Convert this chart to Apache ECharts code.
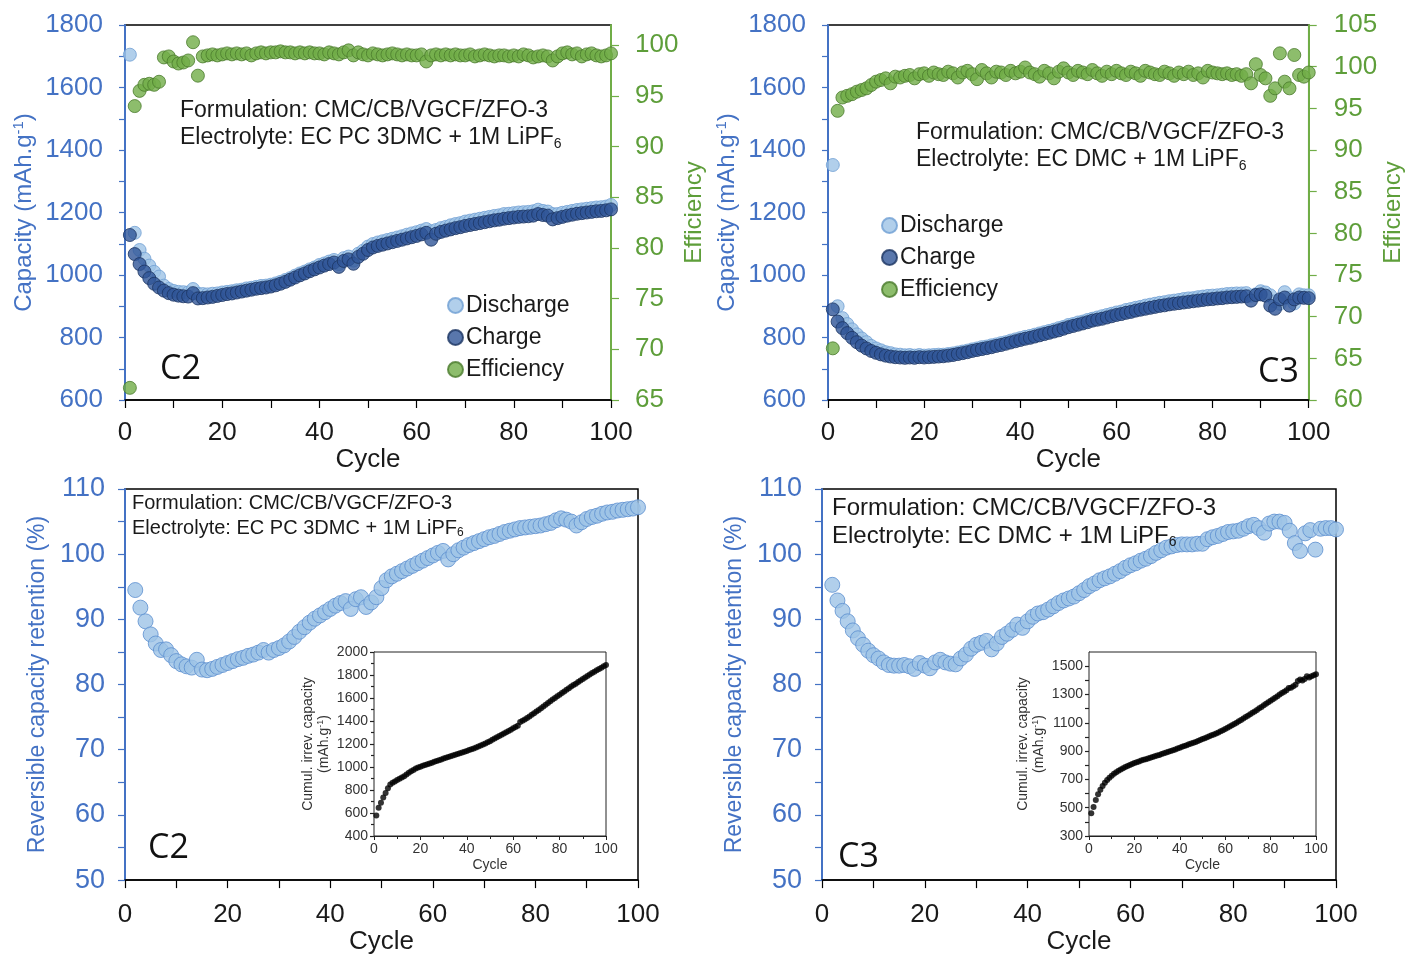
<!DOCTYPE html>
<html><head><meta charset="utf-8">
<script src="https://cdn.jsdelivr.net/npm/echarts@6/dist/echarts.min.js"></script>
<style>html,body{margin:0;padding:0;background:#fff}#c{width:1406px;height:956px}</style>
</head><body><div id="c"></div>
<script>
// ---------------- DATA ----------------
const c2Charge = [1128,1067,1035,1011,990,972,960,950,942,937,
 934,932,931,942,925,926,928,930,933,936,
 939,941,944,947,950,953,956,958,960,963,
 967,972,978,985,992,999,1005,1012,1018,1024,
 1030,1035,1040,1026,1045,1050,1036,1058,1068,1080,
 1088,1093,1097,1101,1105,1109,1113,1117,1121,1125,
 1130,1135,1113,1132,1138,1142,1146,1150,1153,1157,
 1160,1163,1166,1169,1172,1175,1177,1180,1182,1184,
 1186,1187,1188,1190,1195,1192,1190,1178,1182,1186,
 1190,1193,1196,1198,1200,1202,1204,1205,1207,1210];
const c2Discharge = [1705,1135,1080,1052,1030,1010,995,966,955,949,
 946,945,944,955,940,939,938,940,941,944,
 946,948,951,953,957,959,962,965,966,969,
 973,978,984,990,998,1005,1011,1018,1024,1032,
 1037,1043,1048,1035,1054,1059,1046,1068,1078,1091,
 1099,1104,1108,1112,1116,1120,1124,1129,1133,1137,
 1142,1147,1140,1144,1150,1154,1159,1163,1166,1171,
 1174,1177,1180,1183,1186,1189,1191,1195,1196,1198,
 1200,1201,1202,1204,1209,1205,1203,1195,1195,1199,
 1202,1205,1208,1210,1212,1214,1216,1217,1219,1224];
const c2Efficiency = [66.2,94.0,95.5,96.1,96.2,96.1,96.4,98.8,98.9,98.4,
 98.2,98.3,98.5,100.3,97.0,98.9,99.0,99.1,99.0,99.1,
 99.2,99.1,99.2,99.1,99.2,99.0,99.2,99.3,99.2,99.3,
 99.3,99.4,99.3,99.3,99.2,99.3,99.2,99.3,99.2,99.2,
 99.1,99.3,99.2,99.1,99.3,99.5,99.0,99.3,99.1,99.0,
 99.2,99.1,99.0,99.1,99.2,99.1,99.0,99.1,99.0,99.0,
 99.1,98.4,99.0,99.1,99.0,99.1,99.0,99.1,99.0,99.0,
 99.1,98.9,99.0,99.1,99.0,98.9,99.0,99.0,98.9,99.0,
 98.9,99.1,99.0,98.8,98.9,99.0,98.9,98.5,98.9,99.2,
 99.3,99.1,99.2,98.9,99.1,99.2,99.0,98.9,99.0,99.2];

const c3Charge = [890,851,830,814,799,785,774,765,757,751,
 746,742,739,737,736,735,736,735,737,736,
 737,738,739,740,742,744,747,750,753,757,
 760,763,766,769,773,776,780,784,788,792,
 796,799,803,807,811,815,819,823,828,833,
 837,841,845,849,854,857,860,864,868,872,
 875,879,882,886,889,892,895,898,901,903,
 906,908,910,912,914,916,918,920,922,923,
 925,926,928,929,930,931,932,918,936,938,
 934,902,892,922,928,902,922,928,927,926];
const c3Discharge = [1352,900,862,843,826,810,797,785,773,765,
 759,753,750,746,745,743,744,742,744,742,
 743,744,745,745,747,749,752,755,758,762,
 765,769,771,775,778,782,785,790,794,798,
 802,805,809,813,817,821,825,830,834,840,
 843,848,851,856,860,864,868,872,876,880,
 883,888,891,895,898,902,905,908,911,913,
 916,918,920,923,925,926,929,931,933,934,
 935,937,939,940,941,941,942,934,938,948,
 944,935,916,908,945,926,909,938,935,935];
const c3Efficiency = [66.2,94.7,96.3,96.5,96.7,97.0,97.2,97.4,97.8,98.2,
 98.4,98.6,98.0,98.8,98.7,98.9,99.0,98.6,99.1,99.2,
 98.9,99.3,99.1,99.0,99.4,99.2,98.7,99.3,99.5,99.1,
 98.5,99.6,99.2,98.7,99.4,99.3,99.0,99.5,99.2,99.4,
 99.9,99.3,99.1,98.8,99.5,99.2,98.6,99.4,99.8,99.3,
 99.0,99.5,99.3,99.1,99.6,99.2,98.9,99.4,99.1,99.5,
 99.2,99.0,99.4,99.2,98.9,99.5,99.3,99.1,99.0,99.4,
 99.2,98.9,99.3,99.1,99.4,99.0,99.2,98.7,99.5,99.3,
 99.2,99.1,99.2,99.0,99.1,98.9,99.1,98.0,100.3,99.0,
 98.6,96.5,97.4,101.6,98.2,97.4,101.4,99.0,98.8,99.3];

// retention: cycles 2..100
const c2Retention = [94.5,91.8,89.7,87.7,86.3,85.3,85.4,84.5,83.6,
 83.1,82.8,82.6,83.8,82.3,82.2,82.4,82.7,83.0,83.3,
 83.6,83.9,84.1,84.4,84.6,84.9,85.3,84.9,85.3,85.6,
 86.0,86.6,87.3,88.1,88.8,89.5,90.1,90.6,91.1,91.6,
 92.1,92.5,92.8,91.6,93.1,93.4,91.9,92.6,93.4,94.8,
 96.0,96.6,97.0,97.4,97.8,98.2,98.6,99.0,99.4,99.8,
 100.2,100.5,99.2,100.0,100.6,101.0,101.4,101.7,102.0,102.3,
 102.6,102.8,103.1,103.4,103.6,103.8,104.0,104.1,104.2,104.3,
 104.4,104.6,104.8,105.2,105.5,105.3,105.0,104.4,104.9,105.4,
 105.7,105.9,106.2,106.4,106.5,106.7,106.8,106.9,107.0,107.2];
const c3Retention = [95.3,92.9,91.3,89.7,88.3,87.1,86.1,85.2,84.5,
 84.0,83.4,83.0,82.9,82.9,83.0,82.8,82.4,83.3,82.9,
 82.5,83.4,83.8,83.4,83.2,83.1,84.0,84.6,85.5,86.1,
 86.4,86.7,85.4,86.3,87.3,87.8,88.4,89.2,88.7,89.7,
 90.4,90.9,91.1,91.5,92.0,92.5,92.9,93.2,93.5,94.0,
 94.5,95.1,95.5,96.0,96.3,96.6,97.0,97.4,97.9,98.3,
 98.6,99.0,99.3,99.7,100.2,100.6,101.0,101.2,101.4,101.5,
 101.5,101.5,101.6,101.6,102.3,102.6,102.8,103.1,103.4,103.5,
 103.6,103.9,104.3,104.5,104.0,103.3,104.7,105.0,105.0,104.8,
 103.6,101.7,100.5,103.2,103.7,100.7,103.9,104.0,104.0,103.8];

// cumulative irreversible capacity: cycles 1..100
const c2Cumul = [578,645,690,735,775,815,848,862,875,887,
 898,909,920,935,950,963,975,986,995,1003,
 1010,1017,1024,1031,1038,1045,1052,1059,1066,1073,
 1080,1087,1094,1100,1107,1113,1120,1126,1133,1140,
 1147,1154,1161,1170,1178,1186,1196,1205,1215,1225,
 1236,1247,1258,1269,1280,1291,1302,1313,1324,1336,
 1347,1358,1392,1402,1414,1427,1440,1454,1468,1482,
 1496,1511,1526,1541,1556,1571,1586,1600,1615,1629,
 1643,1657,1671,1685,1699,1712,1725,1740,1753,1766,
 1779,1792,1805,1817,1829,1841,1853,1864,1876,1888];
const c3Cumul = [460,505,555,595,627,654,677,696,712,726,
 739,750,761,770,779,787,795,802,809,815,
 821,827,833,838,843,848,853,858,863,868,
 873,879,884,890,895,901,906,912,918,924,
 930,936,942,948,953,959,965,972,978,985,
 991,998,1004,1011,1017,1024,1032,1040,1048,1056,
 1064,1073,1082,1091,1100,1110,1120,1130,1140,1150,
 1160,1170,1180,1191,1202,1212,1223,1234,1245,1256,
 1266,1277,1288,1299,1310,1320,1330,1346,1348,1358,
 1368,1395,1405,1398,1410,1428,1420,1428,1435,1442];

const formulationText = 'Formulation: CMC/CB/VGCF/ZFO-3';
const electrolyteC2 = 'Electrolyte: EC PC 3DMC + 1M LiPF';
const electrolyteC3 = 'Electrolyte: EC DMC + 1M LiPF';

// ---------------- STYLE ----------------
const FONT = 'Arial, "Liberation Sans", sans-serif';
const BLUE = '#4472C4';
const GREEN = '#70AD47';
const GREEN_TXT = '#5E9E3A';
const INK = '#1a1a1a';
const plain = v => String(v);

const pts = (arr, start) => arr.map((v, i) => [i + start, v]);

function xAx(gi, fs, margin, nameGap, opts) {
  return Object.assign({
    gridIndex: gi, type: 'value', min: 0, max: 100, interval: 20,
    name: 'Cycle', nameLocation: 'middle', nameGap: nameGap,
    nameTextStyle: { fontSize: fs, color: INK, fontFamily: FONT },
    axisLine: { onZero: false, lineStyle: { color: '#000', width: 1.5 } },
    axisTick: { show: true, length: 8, lineStyle: { color: '#000', width: 1.2 } },
    minorTick: { show: true, splitNumber: 2, length: 8, lineStyle: { color: '#000', width: 1.2 } },
    axisLabel: { fontSize: fs, color: INK, fontFamily: FONT, margin: margin, formatter: plain },
    splitLine: { show: false }, minorSplitLine: { show: false }
  }, opts || {});
}
function yAx(gi, o) {
  const col = o.color;
  return {
    gridIndex: gi, type: 'value', min: o.min, max: o.max, interval: o.interval,
    position: o.position || 'left',
    name: o.name, nameLocation: 'middle', nameGap: o.nameGap,
    nameTextStyle: o.nameTextStyle,
    axisLine: { show: true, onZero: false, lineStyle: { color: o.lineColor || col, width: o.lineWidth || 2 } },
    axisTick: { show: true, length: o.tickLen || 6, lineStyle: { color: o.lineColor || col, width: 1.2 } },
    minorTick: { show: !!o.minor, splitNumber: 2, length: o.minorLen || o.tickLen || 6, lineStyle: { color: o.lineColor || col, width: 1.2 } },
    axisLabel: Object.assign({ fontSize: o.fs, color: col, fontFamily: FONT, margin: o.margin, showMaxLabel: o.showMax !== false, formatter: plain }, o.labelExtra || {}),
    splitLine: { show: false }, minorSplitLine: { show: false }
  };
}

const capName = {
  fontSize: 24, color: BLUE, fontFamily: FONT,
  rich: { a: { fontSize: 24, color: BLUE, fontFamily: FONT },
          s: { fontSize: 15, color: BLUE, fontFamily: FONT, padding: [0, 0, 11, 0] } }
};
const effName = { fontSize: 24, color: GREEN_TXT, fontFamily: FONT };
const retName = { fontSize: 23, color: BLUE, fontFamily: FONT };
const insetName = {
  fontSize: 14, color: '#333', fontFamily: FONT, lineHeight: 16,
  rich: { a: { fontSize: 14, color: '#333', fontFamily: FONT, lineHeight: 16 },
          s: { fontSize: 9, color: '#333', fontFamily: FONT, padding: [0, 0, 6, 0] } }
};

const discharge = { color: '#9DC3E6', borderColor: '#6F9FD3', borderWidth: 1 };
const charge = { color: '#2F5597', borderColor: '#1C3461', borderWidth: 1 };
const eff = { color: '#70AD47', borderColor: '#4A7A2C', borderWidth: 1 };
const retention = { color: '#9DC3E6', borderColor: '#5B8FD0', borderWidth: 1 };

function annotation(x, y1, y2, fs, elec) {
  return [
    { type: 'text', x: x, y: y1, z: 100,
      style: { text: formulationText, fontSize: fs, fontFamily: FONT, fill: INK, verticalAlign: 'middle' } },
    { type: 'text', x: x, y: y2, z: 100,
      style: { text: '{a|' + elec + '}{b|6}', fill: INK, verticalAlign: 'middle',
        rich: { a: { fontSize: fs, fontFamily: FONT, fill: INK, lineHeight: fs + 6 },
                b: { fontSize: Math.round(fs * 0.6), fontFamily: FONT, fill: INK, lineHeight: fs + 6, padding: [Math.round(fs * 0.5), 0, 0, 0] } } } }
  ];
}
function panelTag(x, y, t) {
  return { type: 'text', x: x, y: y, z: 100,
    style: { text: t, fontSize: 34, fontFamily: '"Open Sans", Lato, sans-serif', fill: '#111', verticalAlign: 'middle' } };
}
const insetX = {
  axisLine: { onZero: false, lineStyle: { color: '#222', width: 1 } },
  axisTick: { show: true, length: 4, lineStyle: { color: '#222' } },
  minorTick: { show: true, splitNumber: 2, length: 3, lineStyle: { color: '#222' } },
  axisLabel: { fontSize: 14, color: '#333', fontFamily: FONT, margin: 6, formatter: plain },
  nameTextStyle: { fontSize: 14, color: '#333', fontFamily: FONT }
};
const legendBase = {
  orient: 'vertical', itemWidth: 15, itemHeight: 15, itemGap: 9, icon: 'circle',
  data: ['Discharge', 'Charge', 'Efficiency'], selectedMode: false,
  textStyle: { fontSize: 23, color: INK, fontFamily: FONT, padding: [0, 0, 0, -2] }
};

const option = {
  animation: false,
  backgroundColor: '#fff',
  grid: [
    { left: 125, top: 25, width: 486, height: 375, show: true, borderColor: '#000', borderWidth: 1.5 },
    { left: 828, top: 25, width: 485, height: 375, show: true, borderColor: '#000', borderWidth: 1.5 },
    { left: 125, top: 489, width: 513, height: 395, show: true, borderColor: '#000', borderWidth: 1.5 },
    { left: 822, top: 489, width: 514, height: 395, show: true, borderColor: '#000', borderWidth: 1.5 },
    { left: 374, top: 652, width: 232, height: 184, show: true, borderColor: '#222', borderWidth: 1, backgroundColor: '#fff', z: 5 },
    { left: 1089, top: 652, width: 227, height: 184, show: true, borderColor: '#222', borderWidth: 1, backgroundColor: '#fff', z: 5 }
  ],
  xAxis: [
    xAx(0, 26, 20, 45),
    xAx(1, 26, 20, 45),
    xAx(2, 26, 22, 46),
    xAx(3, 26, 22, 46),
    xAx(4, 14, 6, 22, insetX),
    xAx(5, 14, 6, 22, insetX)
  ],
  yAxis: [
    yAx(0, { min: 600, max: 1800, interval: 200, color: BLUE, fs: 26, margin: 22, minor: true,
      name: '{a|Capacity (mAh.g}{s|-1}{a|)}', nameGap: 88, nameTextStyle: capName }),
    yAx(0, { min: 65, max: 102, interval: 5, color: GREEN_TXT, lineColor: GREEN, fs: 26, margin: 24, position: 'right',
      tickLen: 8, showMax: false, name: 'Efficiency', nameGap: 62, nameTextStyle: effName }),
    yAx(1, { min: 600, max: 1800, interval: 200, color: BLUE, fs: 26, margin: 22, minor: true,
      name: '{a|Capacity (mAh.g}{s|-1}{a|)}', nameGap: 88, nameTextStyle: capName }),
    yAx(1, { min: 60, max: 105, interval: 5, color: GREEN_TXT, lineColor: GREEN, fs: 26, margin: 25, position: 'right',
      tickLen: 8, name: 'Efficiency', nameGap: 68, nameTextStyle: effName }),
    yAx(2, { min: 50, max: 110, interval: 10, color: BLUE, fs: 27, margin: 20, minor: true, tickLen: 7,
      name: 'Reversible capacity retention (%)', nameGap: 76, nameTextStyle: retName }),
    yAx(3, { min: 50, max: 110, interval: 10, color: BLUE, fs: 27, margin: 20, minor: true, tickLen: 7,
      name: 'Reversible capacity retention (%)', nameGap: 76, nameTextStyle: retName }),
    yAx(4, { min: 400, max: 2000, interval: 200, color: '#333', lineColor: '#222', lineWidth: 1, fs: 14, margin: 6,
      minor: true, tickLen: 4, minorLen: 3,
      name: '{a|Cumul. irrev. capacity}\n{a|(mAh.g}{s|-1}{a|)}', nameGap: 42, nameTextStyle: insetName }),
    yAx(5, { min: 300, max: 1600, interval: 100, color: '#333', lineColor: '#222', lineWidth: 1, fs: 14, margin: 6,
      tickLen: 4, showMax: false,
      labelExtra: { formatter: v => (((v - 300) % 200 === 0 && v <= 1500) ? String(v) : '') },
      name: '{a|Cumul. irrev. capacity}\n{a|(mAh.g}{s|-1}{a|)}', nameGap: 42, nameTextStyle: insetName })
  ],
  legend: [
    Object.assign({}, legendBase, { left: 442, top: 289 }),
    Object.assign({}, legendBase, { left: 876, top: 209 })
  ],
  series: [
    { name: 'Discharge', type: 'scatter', xAxisIndex: 0, yAxisIndex: 0, symbolSize: 13, itemStyle: discharge, data: pts(c2Discharge, 1), z: 2 },
    { name: 'Charge', type: 'scatter', xAxisIndex: 0, yAxisIndex: 0, symbolSize: 13, itemStyle: charge, data: pts(c2Charge, 1), z: 3 },
    { name: 'Efficiency', type: 'scatter', xAxisIndex: 0, yAxisIndex: 1, symbolSize: 13, itemStyle: eff, data: pts(c2Efficiency, 1), z: 3 },
    { name: 'Discharge', type: 'scatter', xAxisIndex: 1, yAxisIndex: 2, symbolSize: 13, itemStyle: discharge, data: pts(c3Discharge, 1), z: 2 },
    { name: 'Charge', type: 'scatter', xAxisIndex: 1, yAxisIndex: 2, symbolSize: 13, itemStyle: charge, data: pts(c3Charge, 1), z: 3 },
    { name: 'Efficiency', type: 'scatter', xAxisIndex: 1, yAxisIndex: 3, symbolSize: 13, itemStyle: eff, data: pts(c3Efficiency, 1), z: 3 },
    { name: 'C2 retention', type: 'scatter', xAxisIndex: 2, yAxisIndex: 4, symbolSize: 15, itemStyle: retention, data: pts(c2Retention, 2), z: 2 },
    { name: 'C3 retention', type: 'scatter', xAxisIndex: 3, yAxisIndex: 5, symbolSize: 15, itemStyle: retention, data: pts(c3Retention, 2), z: 2 },
    { name: 'C2 cumul', type: 'scatter', xAxisIndex: 4, yAxisIndex: 6, symbolSize: 6, itemStyle: { color: '#000' }, data: pts(c2Cumul, 1), z: 6 },
    { name: 'C3 cumul', type: 'scatter', xAxisIndex: 5, yAxisIndex: 7, symbolSize: 6, itemStyle: { color: '#000' }, data: pts(c3Cumul, 1), z: 6 }
  ],
  graphic: [].concat(
    annotation(180, 111, 138, 23, electrolyteC2),
    annotation(916, 133, 160, 23, electrolyteC3),
    annotation(132, 503, 528, 20, electrolyteC2),
    annotation(832, 508, 536, 24, electrolyteC3),
    [panelTag(160, 369, 'C2'), panelTag(1258, 372, 'C3'), panelTag(148, 848, 'C2'), panelTag(838, 857, 'C3')]
  )
};

const chart = echarts.init(document.getElementById('c'), null, { renderer: 'canvas' });
chart.setOption(option);
</script>
</body></html>
